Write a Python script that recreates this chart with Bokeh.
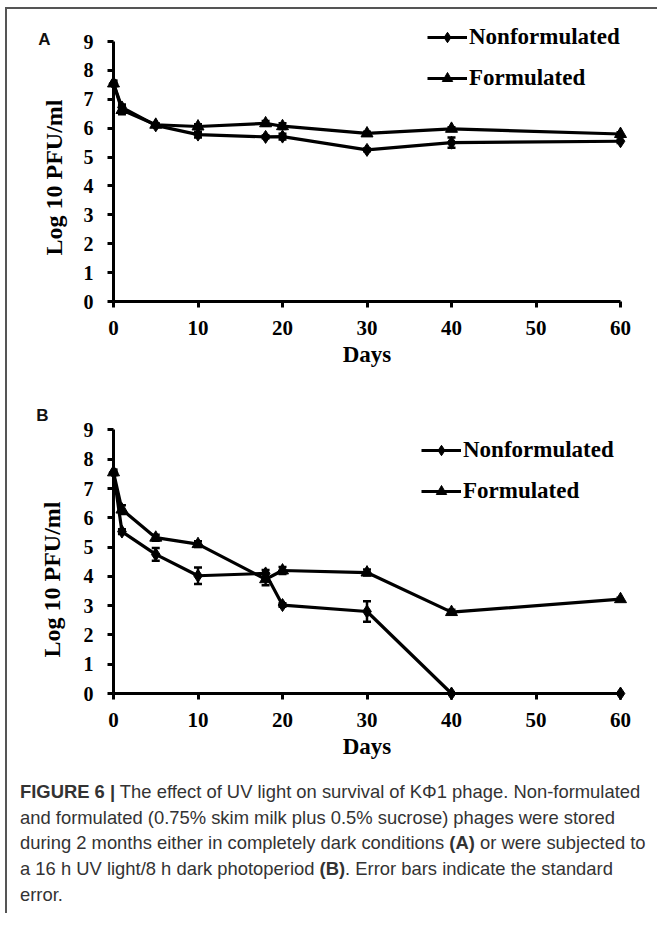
import math
from bokeh.plotting import figure
from bokeh.models import (ColumnDataSource, Whisker, TeeHead, Legend, LegendItem,
                          FixedTicker, Div, Range1d, Column)
from bokeh.embed import file_html
from bokeh.resources import INLINE
from bokeh.core.properties import value

# ---------------- data ----------------
days = [0, 1, 5, 10, 18, 20, 30, 40, 60]

# Panel A: completely dark conditions
a_non = [7.55, 6.72, 6.1, 5.78, 5.7, 5.71, 5.25, 5.5, 5.55]
a_non_err = [0.06, 0.1, 0.05, 0.1, 0.05, 0.1, 0.05, 0.18, 0.06]
a_form = [7.55, 6.63, 6.12, 6.06, 6.17, 6.07, 5.82, 5.98, 5.8]
a_form_err = [0.1, 0.15, 0.05, 0.08, 0.08, 0.1, 0.06, 0.05, 0.06]

# Panel B: 16 h UV light / 8 h dark photoperiod
b_non = [7.55, 5.53, 4.75, 4.02, 4.1, 3.02, 2.8, 0.0, 0.0]
b_non_err = [0.06, 0.08, 0.22, 0.28, 0.12, 0.06, 0.35, 0.0, 0.0]
b_form = [7.55, 6.28, 5.32, 5.1, 3.9, 4.2, 4.13, 2.78, 3.22]
b_form_err = [0.1, 0.15, 0.1, 0.1, 0.2, 0.12, 0.1, 0.08, 0.05]

x_ticks = [0, 10, 20, 30, 40, 50, 60]
y_ticks = [0, 1, 2, 3, 4, 5, 6, 7, 8, 9]

SERIF = "Liberation Serif"
SANS = "Liberation Sans"

X_MAX = 60
Y_MAX = 9.8  # room above the axis for the legend
BOTTOM = 76


def make_panel(letter, non, non_err, form, form_err, min_left, min_right, min_top,
               height, legend_xy, letter_px, ylabel_px):
    p = figure(width=641, height=height,
               x_range=Range1d(0, X_MAX), y_range=Range1d(0, Y_MAX),
               output_backend="svg", toolbar_location=None,
               min_border_left=min_left, min_border_right=min_right,
               min_border_top=min_top, min_border_bottom=BOTTOM)
    p.grid.visible = False
    p.outline_line_color = None

    fw = 641 - min_left - min_right
    fh = height - min_top - BOTTOM

    def to_data(px, py):
        # figure pixel position -> data coordinates (for texts in the margin)
        return ((px - min_left) * X_MAX / fw, (fh - (py - min_top)) * Y_MAX / fh)

    src = ColumnDataSource(dict(
        days=days, non=non, form=form,
        non_lo=[v - e for v, e in zip(non, non_err)],
        non_hi=[v + e for v, e in zip(non, non_err)],
        form_lo=[v - e for v, e in zip(form, form_err)],
        form_hi=[v + e for v, e in zip(form, form_err)],
    ))

    for lo, hi in (("non_lo", "non_hi"), ("form_lo", "form_hi")):
        p.add_layout(Whisker(source=src, base="days", lower=lo, upper=hi,
                             line_width=2.5, line_color="black",
                             upper_head=TeeHead(size=8, line_width=2.5, line_color="black"),
                             lower_head=TeeHead(size=8, line_width=2.5, line_color="black")))

    ln = p.line("days", "non", source=src, line_width=3.2, line_color="black", level="overlay")
    mn = p.scatter("days", "non", source=src, marker="diamond", size=13,
                   fill_color="black", line_color="black", level="overlay")
    lf = p.line("days", "form", source=src, line_width=3.2, line_color="black", level="overlay")
    mf = p.scatter("days", "form", source=src, marker="triangle", size=12,
                   fill_color="black", line_color="black", level="overlay")

    for ax in (p.xaxis[0], p.yaxis[0]):
        ax.axis_line_width = 3
        ax.axis_line_color = "black"
        ax.major_tick_line_width = 3
        ax.major_tick_line_color = "black"
        ax.major_tick_out = 6
        ax.major_tick_in = 0
        ax.minor_tick_out = 0
        ax.minor_tick_in = 0
        ax.major_label_text_font = SERIF
        ax.major_label_text_font_style = "bold"
        ax.major_label_text_color = "black"
        ax.axis_label_text_font = SERIF
        ax.axis_label_text_font_style = "bold"
        ax.axis_label_text_font_size = "23px"
        ax.axis_label_text_color = "black"

    xa = p.xaxis[0]
    xa.ticker = FixedTicker(ticks=x_ticks)
    xa.bounds = (0, 60)
    xa.major_label_text_font_size = "21px"
    xa.major_label_standoff = 13
    xa.axis_label = "Days"
    xa.axis_label_standoff = 4

    ya = p.yaxis[0]
    ya.ticker = FixedTicker(ticks=y_ticks)
    ya.bounds = (0, 9)
    ya.major_label_text_font_size = "20px"
    ya.major_label_standoff = 14

    # y title, centred where the original places it
    yx, yy = to_data(*ylabel_px)
    p.text(x=[yx], y=[yy], text=["Log 10 PFU/ml"], angle=math.pi / 2,
           text_font=value(SERIF), text_font_style="bold", text_font_size="24px",
           text_color="black", text_align="center", text_baseline="middle",
           level="overlay")

    legend = Legend(items=[LegendItem(label="Nonformulated", renderers=[ln, mn]),
                           LegendItem(label="Formulated", renderers=[lf, mf])],
                    location=legend_xy, padding=0, margin=0,
                    border_line_color=None, background_fill_alpha=0,
                    glyph_width=40, glyph_height=26, label_height=26,
                    spacing=15, label_standoff=2,
                    label_text_font=SERIF, label_text_font_style="bold",
                    label_text_font_size="23px", label_text_color="black")
    p.add_layout(legend)

    lx, ly = to_data(*letter_px)
    p.text(x=[lx], y=[ly], text=[letter], text_font=value(SANS), text_font_style="bold",
           text_font_size="17px", text_color="#111", text_align="center",
           text_baseline="middle", level="overlay")
    return p


pa = make_panel("A", a_non, a_non_err, a_form, a_form_err,
                min_left=104, min_right=28, min_top=9, height=368,
                legend_xy=(314, 210), letter_px=(34.5, 30), ylabel_px=(44.5, 168))
pb = make_panel("B", b_non, b_non_err, b_form, b_form_err,
                min_left=106, min_right=25, min_top=29, height=392,
                legend_xy=(308, 189), letter_px=(34.5, 38), ylabel_px=(44.5, 202))

caption = Div(
    text=("<b>FIGURE 6 |</b> The effect of UV light on survival of K\u03a61 phage. Non-formulated<br>"
          "and formulated (0.75% skim milk plus 0.5% sucrose) phages were stored<br>"
          "during 2 months either in completely dark conditions <b>(A)</b> or were subjected to<br>"
          "a 16 h UV light/8 h dark photoperiod <b>(B)</b>. Error bars indicate the standard<br>"
          "error."),
    width=641,
    styles={"font-family": SANS, "font-size": "18.4px", "line-height": "25.7px",
            "color": "#333", "padding-left": "8px", "margin-top": "10px",
            "white-space": "nowrap"},
)

layout = Column(children=[pa, pb, caption],
                styles={"margin-left": "5px", "margin-top": "7px",
                        "border-top": "2px solid #555", "border-left": "2px solid #555"})

open("out.html", "w").write(file_html(layout, INLINE))
